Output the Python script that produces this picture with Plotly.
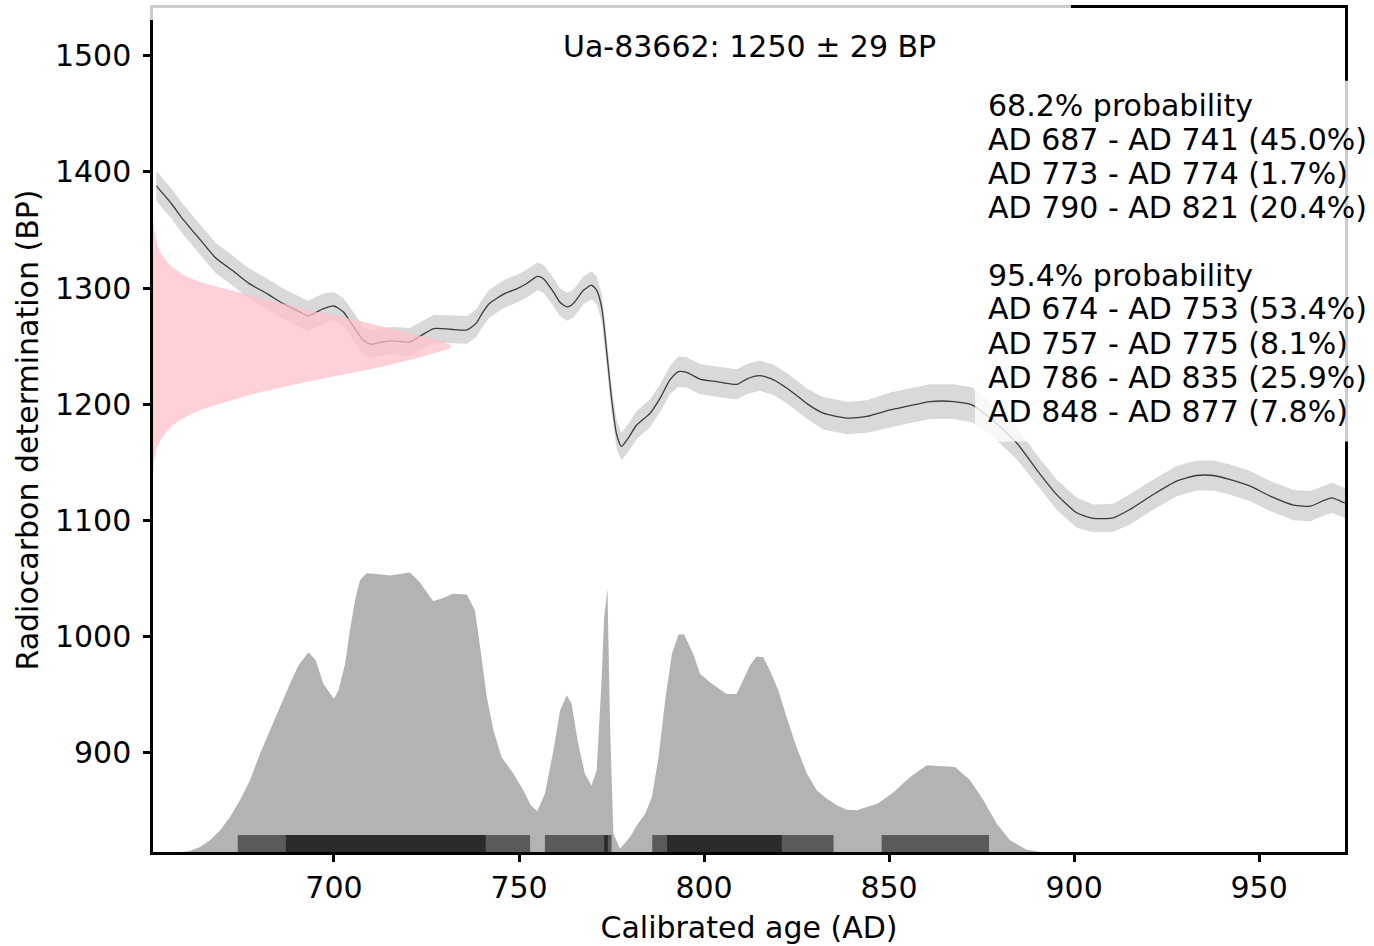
import plotly.graph_objects as go

# ---------------- data ----------------
cal_years = [652, 656, 659, 664, 668, 673, 677, 682, 686, 691, 693, 697, 700, 702.5, 705, 708, 710,
             713, 716, 720.5, 723, 727, 731.5, 736, 738.5, 740, 742, 746, 749.5, 752, 755, 756.6,
             759.3, 761, 763, 764.7, 767.4, 769.6, 771, 772.4, 773.7, 775, 776.4, 777.7, 779.5,
             781.8, 785.4, 788.1, 790.8, 793.1, 795.3, 798.9, 803.4, 808.9, 811.5, 815.1, 818.8,
             822.4, 826, 828, 832.2, 838.6, 844, 850.3, 854.8, 861.1, 867.4, 872.4, 877.3, 884.5,
             890, 895.3, 900.7, 905.2, 910.6, 915.1, 921.4, 927.7, 933.1, 937.6, 942.2, 947.6, 953,
             959.3, 963.9, 967.5, 969.7, 972.4, 974]
cal_bp = [1388, 1373, 1360, 1341, 1326, 1314, 1304, 1295, 1287, 1279, 1276, 1282, 1284.5, 1279.5,
          1268, 1255, 1251.5, 1253.5, 1254.5, 1253.5, 1258, 1265, 1264.5, 1264, 1270, 1278, 1286.6,
          1295, 1299.5, 1303.7, 1310, 1308, 1296.6, 1288, 1283.7, 1286.6, 1298, 1302.4, 1298,
          1282.3, 1245, 1205, 1173.6, 1163.6, 1170.7, 1182, 1192, 1205, 1220.8, 1228, 1227.3,
          1221.6, 1219.4, 1217, 1221.6, 1224.5, 1220.8, 1213.6, 1205, 1200, 1192.2, 1188, 1189.4,
          1195, 1198, 1202.2, 1202.2, 1199.4, 1188, 1166.5, 1143, 1122, 1106.4, 1101.6, 1102.1,
          1109.3, 1122.1, 1133.6, 1138.5, 1138.5, 1135, 1129.3, 1120.7, 1113, 1112.1, 1117,
          1119.3, 1115.8, 1114]
cal_sigma = [13, 13, 13, 13, 13, 13, 13, 13, 13, 13, 13, 13, 12, 12, 12, 12, 12,
             12, 12, 12, 12, 12, 12, 12, 12, 12, 12, 12, 12, 12, 12, 12,
             12, 12, 12, 12, 12, 12, 12, 12, 12, 12, 12, 12, 12,
             12, 12, 12, 12, 13, 13, 13, 13, 13, 13, 13, 13,
             13, 13, 13, 14, 14, 14, 15, 15, 15, 15, 15, 14, 14,
             13, 13, 13, 12, 12, 13, 13, 13, 13, 13, 13, 13, 13,
             13, 13, 13, 13, 13, 13]

post_years = [659, 661, 663.8, 666.5, 669.2, 671.9, 674.6, 677.3, 680, 682.7, 685.4, 688.1, 690.4,
              693.1, 695.1, 697.1, 700, 701.2, 703, 704.3, 705.7, 707, 708.8, 711.5, 715.1, 720.5,
              723.2, 726.8, 729.5, 732.2, 735.9, 738.1, 739.5, 741.3, 743.1, 745.3, 748.5, 751.2,
              753.2, 754.9, 757, 759.3, 761.1, 762.9, 764.2, 766, 767.8, 769.6, 771, 772.4, 773,
              773.9, 774.6, 775.5, 777.3, 780, 781.8, 784.1, 785.9, 787.7, 789.5, 791.3, 793.1,
              794.6, 797.1, 798.9, 801.6, 804.3, 806.1, 808.8, 810.6, 812.4, 814.2, 816, 817.8,
              820.1, 822.3, 825, 827.8, 830.5, 833.2, 835.9, 838.6, 841.3, 844, 847, 851.2, 855.7,
              860.2, 864.7, 867.8, 871.9, 875.5, 879.1, 882.7, 887.2, 890.8]
post_prob = [0, 0.004, 0.018, 0.042, 0.077, 0.125, 0.185, 0.256, 0.351, 0.435, 0.518, 0.601, 0.667,
             0.714, 0.685, 0.601, 0.548, 0.577, 0.673, 0.792, 0.899, 0.970, 0.996, 0.994, 0.988,
             0.999, 0.964, 0.896, 0.908, 0.923, 0.920, 0.863, 0.732, 0.554, 0.435, 0.339, 0.280,
             0.220, 0.167, 0.146, 0.208, 0.363, 0.506, 0.560, 0.530, 0.387, 0.280, 0.238, 0.292,
             0.637, 0.839, 0.940, 0.458, 0.065, 0.012, 0.054, 0.095, 0.137, 0.196, 0.339, 0.542,
             0.708, 0.777, 0.777, 0.708, 0.637, 0.607, 0.583, 0.565, 0.565, 0.613, 0.667, 0.699,
             0.696, 0.649, 0.577, 0.482, 0.375, 0.280, 0.220, 0.190, 0.167, 0.151, 0.149, 0.161,
             0.173, 0.214, 0.268, 0.310, 0.306, 0.304, 0.256, 0.185, 0.101, 0.042, 0.008, 0]

date_bp = [1140, 1150, 1162, 1170.6, 1176.5, 1182, 1188, 1195, 1199.4, 1208, 1215, 1220.8, 1226.5,
           1232.3, 1239.4, 1248, 1250.5, 1255, 1259.5, 1266.6, 1273.7, 1279.5, 1286.6, 1294,
           1301, 1305.2, 1311, 1315.2, 1319.5, 1325.2, 1331, 1345, 1360]
date_prob = [0, 0.003, 0.012, 0.029, 0.046, 0.068, 0.102, 0.158, 0.214, 0.326, 0.437, 0.549,
             0.661, 0.773, 0.885, 0.997, 1.0, 0.963, 0.885, 0.773, 0.661, 0.549, 0.437, 0.326,
             0.214, 0.158, 0.102, 0.080, 0.057, 0.040, 0.023, 0.007, 0]

range_68_start = [687, 773, 790]
range_68_end = [741, 774, 821]
range_95_start = [674, 757, 786, 848]
range_95_end = [753, 775, 835, 877]

sample_label = "Ua-83662: 1250 ± 29 BP"
legend_lines = ["68.2% probability", "AD 687 - AD 741 (45.0%)", "AD 773 - AD 774 (1.7%)",
                "AD 790 - AD 821 (20.4%)", "", "95.4% probability", "AD 674 - AD 753 (53.4%)",
                "AD 757 - AD 775 (8.1%)", "AD 786 - AD 835 (25.9%)", "AD 848 - AD 877 (7.8%)"]

x_ticks = [700, 750, 800, 850, 900, 950]
y_ticks = [900, 1000, 1100, 1200, 1300, 1400, 1500]

# ---------------- layout constants ----------------
XMIN, XMAX = 651.1, 973.2
YMIN, YMAX = 814.2, 1541.2
POST_HEIGHT = 241.0      # BP units used by the posterior at its max
DATE_WIDTH = 80.5        # years used by the radiocarbon date at its max
BAR_HEIGHT = 14.6        # BP units of the range bars

W, H = 1374, 946
L, R, T, B = 153, 1345, 5, 852
def px(xp):
    return (xp - L) / (R - L)
def py(yp):
    return (B - yp) / (B - T)

fig = go.Figure()

# calibration curve band
upper = [b + s for b, s in zip(cal_bp, cal_sigma)]
lower = [b - s for b, s in zip(cal_bp, cal_sigma)]
fig.add_trace(go.Scatter(x=cal_years + cal_years[::-1], y=upper + lower[::-1], fill="toself",
                         fillcolor="#d9d9d9", line=dict(width=0), mode="lines", hoverinfo="skip"))
fig.add_trace(go.Scatter(x=cal_years, y=cal_bp, mode="lines",
                         line=dict(color="#3c3c3c", width=1.3, shape="spline", smoothing=0.6)))

# posterior distribution
post_y = [YMIN + p * POST_HEIGHT for p in post_prob]
fig.add_trace(go.Scatter(x=post_years + post_years[::-1], y=post_y + [YMIN] * len(post_years),
                         fill="toself", fillcolor="#b3b3b3", line=dict(width=0), mode="lines",
                         hoverinfo="skip"))

# radiocarbon date distribution (pink)
date_x = [XMIN + p * DATE_WIDTH for p in date_prob]
fig.add_trace(go.Scatter(x=date_x + [XMIN, XMIN], y=date_bp + [date_bp[-1], date_bp[0]],
                         fill="toself", fillcolor="rgba(255,192,203,0.75)", line=dict(width=0),
                         mode="lines", hoverinfo="skip"))

shapes = []
for s, e in zip(range_95_start, range_95_end):
    shapes.append(dict(type="rect", xref="x", yref="y", x0=s, x1=e, y0=YMIN, y1=YMIN + BAR_HEIGHT,
                       fillcolor="#5a5a5a", line=dict(width=0), layer="above"))
for s, e in zip(range_68_start, range_68_end):
    shapes.append(dict(type="rect", xref="x", yref="y", x0=s, x1=e, y0=YMIN, y1=YMIN + BAR_HEIGHT,
                       fillcolor="#2b2b2b", line=dict(width=0), layer="above"))

# semi-transparent text boxes
shapes.append(dict(type="rect", xref="paper", yref="paper", x0=px(975), x1=px(1380), y0=py(440),
                   y1=py(78), fillcolor="rgba(255,255,255,0.8)", line=dict(width=0), layer="above"))
shapes.append(dict(type="rect", xref="paper", yref="paper", x0=px(146), x1=px(1071), y0=py(17),
                   y1=py(-10), fillcolor="rgba(255,255,255,0.8)", line=dict(width=0), layer="above"))

annotations = [dict(text=sample_label, xref="paper", yref="paper", x=0.5, y=py(44), xanchor="center",
                    yanchor="middle", showarrow=False, font=dict(size=30, color="black"))]
line_y = [103, 137, 171, 205, 239, 273, 307, 342, 376, 410]
for t, yy in zip(legend_lines, line_y):
    if t:
        annotations.append(dict(text=t, xref="paper", yref="paper", x=px(986), y=py(yy),
                                xanchor="left", yanchor="middle", showarrow=False,
                                font=dict(size=30, color="black")))

axis_common = dict(showline=True, linewidth=2.5, linecolor="black", mirror=True, ticks="outside",
                   ticklen=7, tickwidth=2.5, tickcolor="black", showgrid=False, zeroline=False,
                   tickfont=dict(size=30, color="black"))
fig.update_layout(
    width=W, height=H, margin=dict(l=L, r=W - R, t=T, b=H - B),
    plot_bgcolor="white", paper_bgcolor="white", showlegend=False,
    font=dict(family="DejaVu Sans", size=30, color="black"),
    xaxis=dict(range=[XMIN, XMAX], tickvals=x_ticks, ticktext=[str(v) for v in x_ticks],
               title=dict(text="Calibrated age (AD)", font=dict(size=30), standoff=14), **axis_common),
    yaxis=dict(range=[YMIN, YMAX], tickvals=y_ticks, ticktext=[str(v) for v in y_ticks],
               ticklabelstandoff=6,
               title=dict(text="Radiocarbon determination (BP)", font=dict(size=30), standoff=8),
               **axis_common),
    shapes=shapes, annotations=annotations,
)

fig.write_html("out.html", config={"displayModeBar": False},
               post_script="document.body.style.margin='0';")
